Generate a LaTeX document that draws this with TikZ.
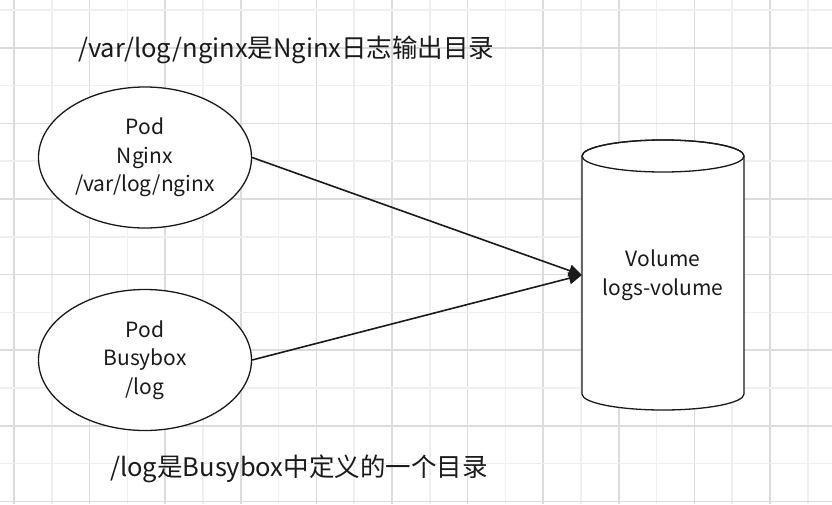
\documentclass[tikz,border=0pt]{standalone}
\usepackage{fontspec}
\setmainfont{Noto Sans CJK SC}
\usetikzlibrary{shapes.geometric,arrows.meta,backgrounds}
\definecolor{ink}{HTML}{1A1A1A}
\definecolor{gridlight}{HTML}{EFEFEF}
\definecolor{griddark}{HTML}{DCDCDC}
\tikzset{
  podshape/.style={ellipse, draw=ink, line width=1.3pt, fill=white, inner sep=0pt,
    minimum width=213pt, minimum height=141pt, align=center, text=ink,
    font=\fontsize{21}{28.5}\selectfont},
  labeltext/.style={inner sep=0pt, text=ink, font=\fontsize{25.5}{28.5}\selectfont},
  volbox/.style={inner sep=0pt, minimum width=162pt, minimum height=238pt, align=center,
    text=ink, font=\fontsize{21}{29}\selectfont},
  cylline/.style={draw=ink, line width=1.3pt, fill=white},
  flow/.style={draw=ink, line width=1.6pt, -{Triangle[length=13pt,width=12pt]}},
  gridminor/.style={gridlight, line width=1.5pt},
  gridmajor/.style={griddark, line width=1.5pt}
}
\begin{document}
\begin{tikzpicture}[x=1pt,y=-1pt]
\useasboundingbox (0,0) rectangle (832,504);
% nodes
\node[labeltext, anchor=base west] (t1) at (78,57) {/var/log/nginx是Nginx日志输出目录};
\node[labeltext, anchor=base west] (t2) at (110,476) {/log是Busybox中定义的一个目录};
\node[podshape] (pn) at (145,157.5) {Pod\\Nginx\\/var/log/nginx};
\node[podshape] (pb) at (145,360) {Pod\\Busybox\\/log};
\node[volbox] (vol) at (663,275) {Volume\\logs-volume};
\begin{scope}[on background layer]
  \fill[white] (0,0) rectangle (832,504);
  \foreach \k in {0,...,21} {
    \pgfmathtruncatemacro{\kpar}{mod(\k,2)}
    \ifnum\kpar=0
      \draw[gridmajor] ({14+37.8*\k},0) -- ({14+37.8*\k},504);
    \else
      \draw[gridminor] ({14+37.8*\k},0) -- ({14+37.8*\k},504);
    \fi
  }
  \foreach \k in {0,...,13} {
    \pgfmathtruncatemacro{\kpar}{mod(\k,2)}
    \ifnum\kpar=1
      \draw[gridmajor] (0,{10+37.8*\k}) -- (832,{10+37.8*\k});
    \else
      \draw[gridminor] (0,{10+37.8*\k}) -- (832,{10+37.8*\k});
    \fi
  }
  \coordinate (cnw) at (582,156);
  \coordinate (csw) at (582,394);
  \coordinate (cne) at (744,156);
  \coordinate (ctop) at (663,156);
  \path[cylline] (cnw) -- (csw)
     arc[start angle=180, end angle=360, x radius=81pt, y radius=16pt]
     -- (cne)
     arc[start angle=0, end angle=180, x radius=81pt, y radius=16pt] -- cycle;
  \draw[draw=ink, line width=1.3pt] (ctop) ellipse [x radius=81pt, y radius=16pt];
\end{scope}
\draw[flow] (pn.east) -- (vol.west);
\draw[flow] (pb.east) -- (vol.west);
\end{tikzpicture}
\end{document}
